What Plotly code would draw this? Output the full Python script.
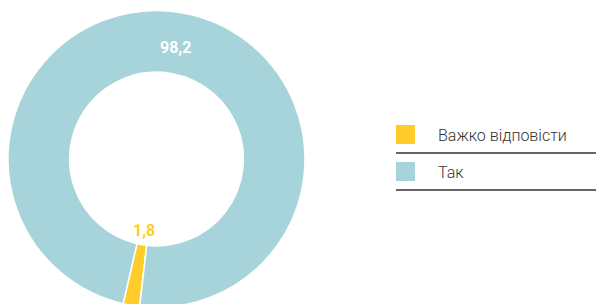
import math
import plotly.graph_objects as go

labels = ["Важко відповісти", "Так"]
values = [1.8, 98.2]
colors = ["#FFCC29", "#A6D4DA"]

W, H = 604, 304
OFF = 8  # page body margin
cx, cy, R = 156.5 - OFF, 159 - OFF, 148.5
hole = 0.585
rotation = 186.5

fig = go.Figure()
fig.add_trace(go.Pie(
    labels=labels,
    values=values,
    sort=False,
    direction="clockwise",
    rotation=rotation,
    hole=hole,
    marker=dict(colors=colors, line=dict(color="white", width=1.5)),
    textinfo="none",
    domain=dict(x=[max(0, (cx - R) / W), (cx + R) / W],
                y=[max(0, 1 - (cy + R) / H), 1 - (cy - R) / H]),
    showlegend=False,
    hoverinfo="label+value",
))

annotations = []
shapes = []
total = sum(values)
label_r = [0.49 * R, 0.765 * R]
label_c = [colors[0], "white"]
start = rotation
for v, rr, tc in zip(values, label_r, label_c):
    mid = math.radians(start + v / total * 360 / 2)
    start += v / total * 360
    annotations.append(dict(
        x=(cx + rr * math.sin(mid)) / W, y=1 - (cy - rr * math.cos(mid)) / H,
        xref="paper", yref="paper", showarrow=False,
        xanchor="center", yanchor="middle",
        text=f"{v:.1f}".replace(".", ","),
        font=dict(family="Roboto", size=16, color=tc, weight="bold"),
    ))

lx0, ly0, step = 396 - OFF, 125 - OFF, 37
for i, (lab, col) in enumerate(zip(labels, colors)):
    top = ly0 + i * step
    shapes.append(dict(type="rect", xref="paper", yref="paper",
                       x0=lx0 / W, x1=(lx0 + 19) / W,
                       y0=1 - (top + 19) / H, y1=1 - top / H,
                       fillcolor=col, line=dict(width=0)))
    shapes.append(dict(type="line", xref="paper", yref="paper",
                       x0=lx0 / W, x1=1,
                       y0=1 - (top + 28) / H, y1=1 - (top + 28) / H,
                       line=dict(color="#333333", width=1.5)))
    annotations.append(dict(x=(436 - OFF) / W, y=1 - (top + 10) / H, xref="paper", yref="paper",
                            xanchor="left", yanchor="middle", showarrow=False,
                            text=lab, font=dict(family="Roboto", size=16, color="#333333", weight=300)))

fig.update_layout(
    width=W, height=H,
    margin=dict(l=0, r=0, t=0, b=0),
    paper_bgcolor="white", plot_bgcolor="white",
    separators=", ",
    shapes=shapes, annotations=annotations,
)
fig.write_html("out.html")
